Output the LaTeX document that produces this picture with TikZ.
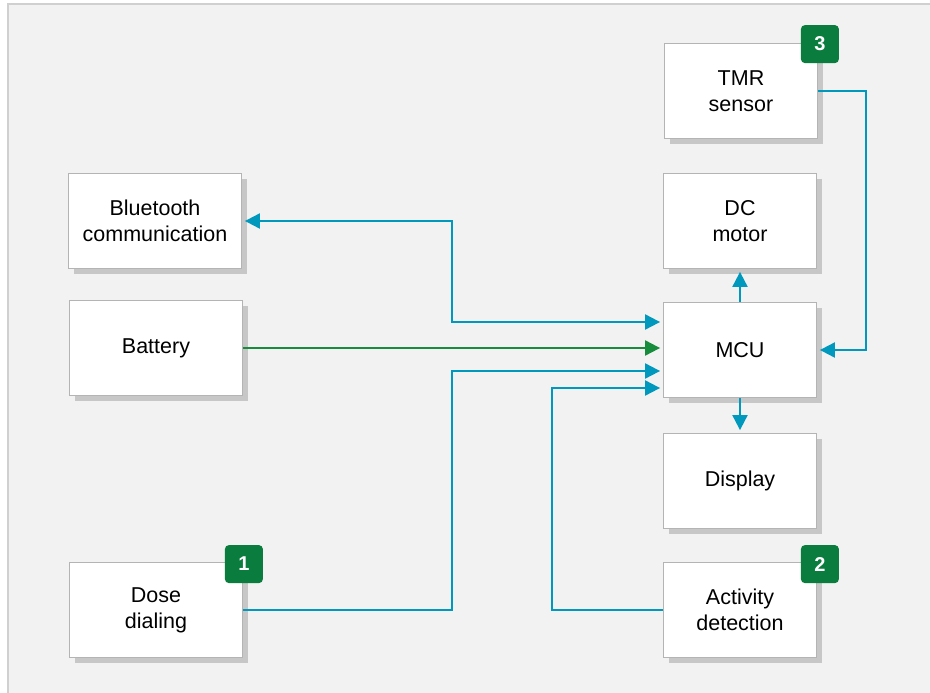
\documentclass[tikz,border=0pt]{standalone}
\usepackage{fontspec}
\setmainfont{Liberation Sans}
\usetikzlibrary{arrows.meta,shadows}
\definecolor{panel}{HTML}{F2F2F2}
\definecolor{frame}{HTML}{D0D0D0}
\definecolor{boxline}{HTML}{B4B4B4}
\definecolor{teal}{RGB}{0,152,188}
\definecolor{pwr}{HTML}{168C3C}
\definecolor{badgegreen}{HTML}{0A7D3E}
\begin{document}
\begin{tikzpicture}[x=1pt,y=-1pt]
  \tikzstyle{block}=[draw=boxline,line width=0.8pt,fill=white,minimum height=95pt,
    align=center,font=\fontsize{21.5}{26}\selectfont,
    drop shadow={shadow xshift=5pt,shadow yshift=-5pt,opacity=0.3,fill=black!60}]
  \tikzstyle{wide}=[block,minimum width=173pt]
  \tikzstyle{narrow}=[block,minimum width=153pt]
  \tikzstyle{badge}=[fill=badgegreen,rounded corners=4pt,minimum size=38pt,inner sep=0pt,
    text=white,font=\fontsize{20}{20}\selectfont\bfseries]
  \tikzstyle{link}=[draw=teal,line width=2pt,
    -{Triangle[length=15pt,width=15pt]},shorten >=3pt]
  \tikzstyle{power}=[link,draw=pwr]
  \useasboundingbox (0,0) rectangle (930,693);
  \fill[panel] (8,4) rectangle (930,693);
  \draw[frame,line width=1.5pt] (8,693) -- (8,4) -- (930,4);
  % blocks
  \node[narrow] (tmr)  at (741,91) {TMR\\sensor};
  \node[wide]   (bt)   at (155,221) {Bluetooth\\communication};
  \node[narrow] (dc)   at (740,221) {DC\\motor};
  \node[wide]   (bat)  at (156,348) {Battery};
  \node[narrow] (mcu)  at (740,350) {MCU};
  \node[narrow] (disp) at (740,481) {Display};
  \node[wide]   (dose) at (156,610) {Dose\\dialing};
  \node[narrow] (act)  at (740,610) {Activity\\detection};
  % badges
  \node[badge] (b1) at ([xshift=1pt,yshift=-2pt]dose.north east) {1};
  \node[badge] (b2) at ([xshift=3pt,yshift=-2pt]act.north east) {2};
  \node[badge] (b3) at ([xshift=2pt,yshift=-1pt]tmr.north east) {3};
  % connectors
  \draw[link,{Triangle[length=15pt,width=15pt]}-{Triangle[length=15pt,width=15pt]},shorten <=3pt]
    (bt.east) -| (452,322) -- ([yshift=28pt]mcu.west);
  \draw[power] (bat.east) -- (bat.east -| mcu.west);
  \draw[link] (dose.east) -| (452,371) -- ([yshift=-21pt]mcu.west);
  \draw[link] (act.west) -| (552,388) -- ([yshift=-38pt]mcu.west);
  \draw[link] (mcu.north) -- (dc.south);
  \draw[link] (mcu.south) -- (disp.north);
  \draw[link] (tmr.east) -| (866,350) -- (mcu.east);
\end{tikzpicture}
\end{document}
